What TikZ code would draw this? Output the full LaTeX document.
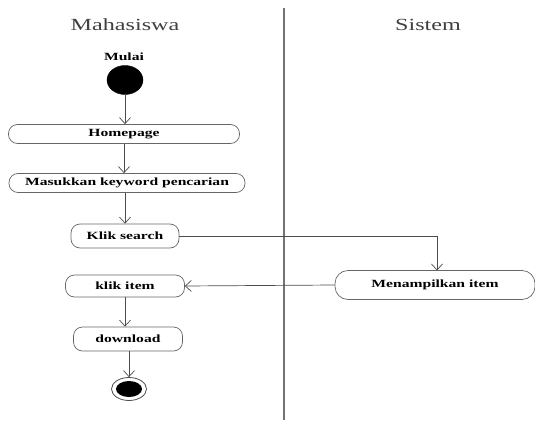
\documentclass[tikz,border=0pt]{standalone}
\usepackage{fontspec}
\setmainfont{Liberation Serif}[FakeStretch=1.42]
\usetikzlibrary{arrows.meta,shapes.geometric}
\begin{document}
\begin{tikzpicture}[x=1pt,y=-1pt,
  act/.style={draw=black!60, rounded corners=9pt, line width=0.7pt, font=\fontsize{11}{12}\selectfont\bfseries, inner sep=0pt, minimum height=19pt},
  flow/.style={draw=black!70, line width=0.7pt, -{Straight Barb[length=6pt,width=11pt]}},
  lane/.style={font=\fontsize{17}{19}\selectfont, text=black!75}]
\useasboundingbox (0,0) rectangle (535,420);
\draw[black!55, line width=1.2pt] (284,8) -- (284,420);
\node[lane] (t1) at (125,25) {Mahasiswa};
\node[lane] (t2) at (428,25) {Sistem};
\node[font=\fontsize{11}{12}\selectfont\bfseries] (mulai) at (124,57) {Mulai};
\node[draw, fill=black, ellipse, minimum width=36pt, minimum height=29pt, inner sep=0pt] (start) at (125,80) {};
\node[act, minimum width=231pt] (home) at (124,134) {Homepage};
\node[act, minimum width=236pt] (masuk) at (127,183) {Masukkan keyword pencarian};
\node[act, minimum width=108pt, minimum height=24pt] (search) at (125,236) {Klik search};
\node[act, minimum width=119pt, minimum height=22pt] (item) at (125,286) {klik item};
\node[act, minimum width=109pt, minimum height=24pt] (down) at (128,339) {download};
\node[act, minimum width=200pt, minimum height=29pt, rounded corners=13pt] (tampil) at (435,285) {Menampilkan item};
\node[draw=black!70, line width=0.8pt, ellipse, minimum width=35pt, minimum height=23pt, inner sep=0pt] (end) at (129,389) {};
\node[fill=black, ellipse, minimum width=26pt, minimum height=16pt, inner sep=0pt] at (end) {};
\draw[flow] (start) -- (home.north -| start);
\draw[flow] (home.south) -- (home.south |- masuk.north);
\draw[flow] (masuk.south -| search) -- (search.north);
\draw[flow] (search.east) -- (437,236) -- (437,270.5);
\draw[flow] (tampil.west) -- (item.east);
\draw[flow] (item.south) -- (down.north -| item);
\draw[flow] (down.south -| end) -- (end.north);
\end{tikzpicture}
\end{document}
